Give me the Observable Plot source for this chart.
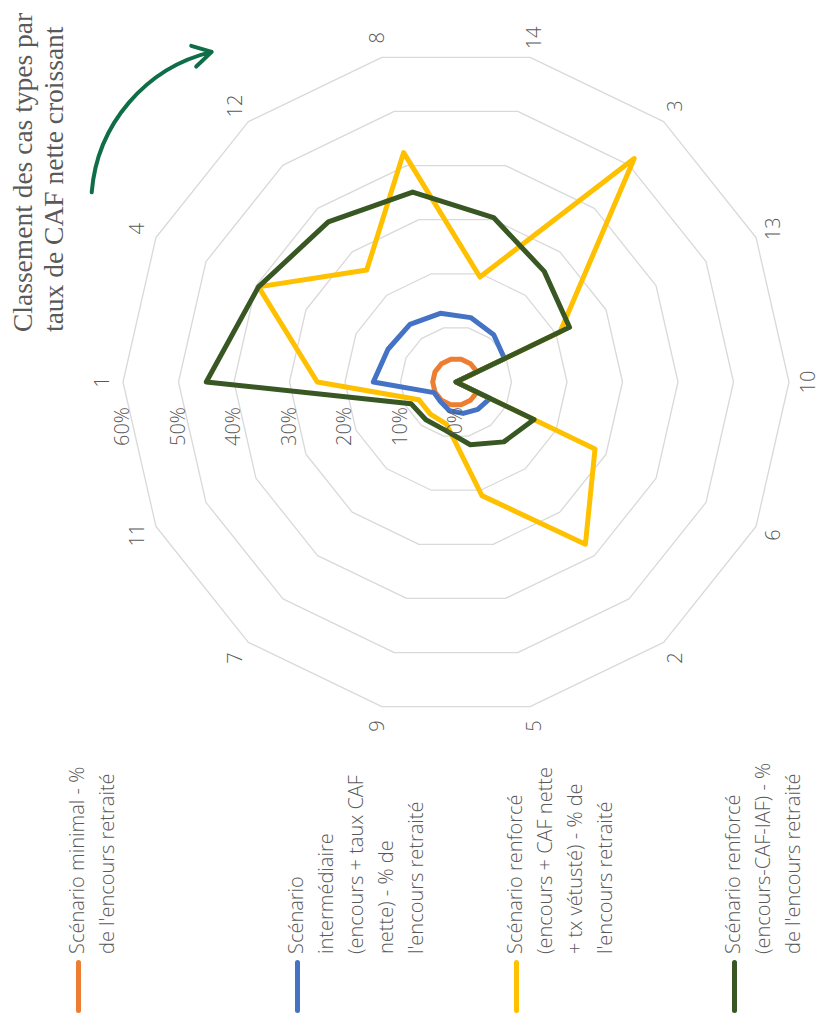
<!DOCTYPE html>
<html><head><meta charset="utf-8">
<script src="https://cdn.jsdelivr.net/npm/d3@7"></script>
<script src="https://cdn.jsdelivr.net/npm/@observablehq/plot@0.6"></script>
<style>
html,body{margin:0;padding:0;background:#fff;overflow:hidden;}
#page{position:relative;width:828px;height:1026px;overflow:hidden;background:#fff;}
#rot{position:absolute;left:0;top:0;width:1026px;height:828px;transform-origin:0 0;transform:translate(0,1026px) rotate(-90deg);}
#chart{position:absolute;left:0;top:0;}
.title{position:absolute;left:694px;top:7px;font-family:"Liberation Serif",serif;font-size:27.5px;line-height:31px;color:#595959;white-space:nowrap;}
.leg{position:absolute;left:13px;font-family:"Open Sans",sans-serif;font-weight:300;font-size:20px;line-height:30px;color:#595959;}
.leg .sw{position:absolute;left:0;top:13.5px;width:53px;height:5px;border-radius:3px;}
.leg .tx{margin-left:59px;white-space:nowrap;}
</style></head><body>
<div id="page"><div id="rot"><div id="chart"></div>
<div class="title">Classement des cas types par<br>taux de CAF nette croissant</div>
<div id="legend"></div></div></div>
<script>
// ---- data ----
const categories = ["1","4","12","8","14","3","13","10","6","2","5","9","7","11"];
const seriesNames = [
  "Scénario minimal - % de l'encours retraité",
  "Scénario intermédiaire (encours + taux CAF nette) - % de l'encours retraité",
  "Scénario renforcé (encours + CAF nette + tx vétusté) - % de l'encours retraité",
  "Scénario renforcé (encours-CAF-IAF) - % de l'encours retraité"
];
const legendLines = [
  ["Scénario minimal - %", "de l'encours retraité"],
  ["Scénario", "intermédiaire", "(encours + taux CAF", "nette) - % de", "l'encours retraité"],
  ["Scénario renforcé", "(encours + CAF nette", "+ tx vétusté) - % de", "l'encours retraité"],
  ["Scénario renforcé", "(encours-CAF-IAF) - %", "de l'encours retraité"]
];
const minimal       = [4.2, 4.2, 4.2, 4.2, 4.2, 4.2, 4.2, 0, 4.2, 4.2, 4.2, 4.2, 4.2, 4.2];
const intermediaire = [14.9, 13.6, 13.3, 12.7, 11.9, 10.9, 9.7, 0, 6.8, 6.3, 5.8, 5.3, 4.5, 4.4];
const renforce      = [25.0, 39.5, 25.8, 42.4, 19.4, 51.5, 20.8, 0, 27.8, 37.4, 21.0, 7.8, 7.4, 7.4];
const renforceIAF   = [45.0, 39.5, 36.9, 35.1, 30.4, 25.5, 22.7, 0, 15.6, 13.8, 11.6, 8.9, 8.7, 9.0];
const tickValues = [0, 10, 20, 30, 40, 50, 60];
const tickLabels = ["0%", "10%", "20%", "30%", "40%", "50%", "60%"];
const colors = ["#ED7D31", "#4472C4", "#FFC000", "#385723"];
// annotation arrow (polar: degrees clockwise from axis "1", radius in %)
const arrowNote = [{fromDeg: 27.5, toDeg: 53.5, radius: 74}];

// ---- layout ----
const W = 1026, H = 828, CX = 643.5, CY = 455.5, PX = 5.55;
const labelRadius = 63.6;
const font = "'Open Sans', sans-serif";

const ang = k => (k * 2 * Math.PI) / categories.length;
const px = (r, a) => r * Math.sin(a);
const py = (r, a) => r * Math.cos(a);

const allSeries = [minimal, intermediaire, renforce, renforceIAF];
const rows = allSeries.flatMap((vals, s) =>
  vals.map((v, k) => ({series: seriesNames[s], cat: categories[k], k, value: v})));
const rings = tickValues.filter(t => t > 0).flatMap(t => categories.map((c, k) => ({t, k})));

const chart = Plot.plot({
  width: W, height: H, margin: 0,
  x: {domain: [-CX / PX, (W - CX) / PX], axis: null},
  y: {domain: [-(H - CY) / PX, CY / PX], axis: null},
  color: {domain: seriesNames, range: colors},
  style: {background: "transparent", overflow: "visible"},
  marks: [
    Plot.line(rings, {x: d => px(d.t, ang(d.k)), y: d => py(d.t, ang(d.k)), z: "t",
      curve: "linear-closed", stroke: "#d9d9d9", strokeWidth: 1.3}),
    Plot.line(rows, {x: d => px(d.value, ang(d.k)), y: d => py(d.value, ang(d.k)), z: "series",
      stroke: "series", strokeWidth: 5, curve: "linear-closed", strokeLinejoin: "round", strokeLinecap: "round"}),
    Plot.text(tickValues, {x: () => 0, y: d => d, text: (d, i) => tickLabels[i],
      textAnchor: "end", dx: -25, fontSize: 20, fill: "#595959", fontFamily: font, fontWeight: 300}),
    Plot.text(categories, {x: (d, i) => px(labelRadius, ang(i)), y: (d, i) => py(labelRadius, ang(i)),
      text: d => d, fontSize: 20, fill: "#595959", fontFamily: font, fontWeight: 300}),
    Plot.arrow(arrowNote, {
      x1: d => px(d.radius, d.fromDeg * Math.PI / 180), y1: d => py(d.radius, d.fromDeg * Math.PI / 180),
      x2: d => px(d.radius, d.toDeg * Math.PI / 180), y2: d => py(d.radius, d.toDeg * Math.PI / 180),
      bend: 36, stroke: "#0f6e48", strokeWidth: 4, headLength: 8})
  ]
});
document.getElementById("chart").appendChild(chart);

// ---- legend ----
const legendTops = [62, 281, 500, 718];
const legend = document.getElementById("legend");
seriesNames.forEach((name, i) => {
  const item = document.createElement("div");
  item.className = "leg";
  item.style.top = legendTops[i] + "px";
  item.title = name;
  const sw = document.createElement("div");
  sw.className = "sw";
  sw.style.background = colors[i];
  const tx = document.createElement("div");
  tx.className = "tx";
  tx.innerHTML = legendLines[i].map(l => l.replace(/&/g, "&amp;").replace(/</g, "&lt;")).join("<br>");
  item.appendChild(sw);
  item.appendChild(tx);
  legend.appendChild(item);
});
</script>
</body></html>
